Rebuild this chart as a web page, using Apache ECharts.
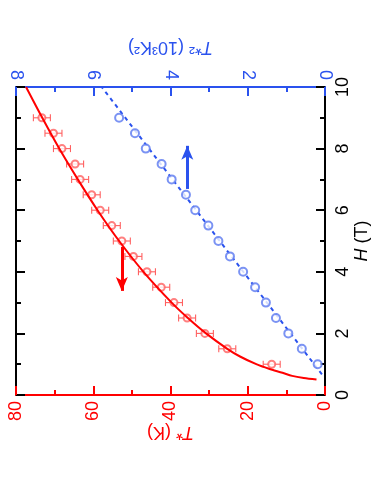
<!DOCTYPE html>
<html>
<head>
<meta charset="utf-8">
<script src="https://cdn.jsdelivr.net/npm/echarts@6/dist/echarts.min.js"></script>
<style>
  html, body { margin: 0; padding: 0; background: #fff; }
  #panel { width: 374px; height: 484px; }
</style>
</head>
<body>
<div id="panel"></div>
<script>
  // measured points (H in tesla)
  const fieldH = [1, 1.5, 2, 2.5, 3, 3.5, 4, 4.5, 5, 5.5, 6, 6.5, 7, 7.5, 8, 8.5, 9];
  const tStar = [13.8, 25.3, 31.1, 35.7, 39.1, 42.4, 46.1, 49.6, 52.6, 55.2, 58.2, 60.4, 63.4, 64.7, 68.1, 70.3, 73.3];
  const tStarErr = [2.2, 2.2, 2.2, 2.2, 2.2, 2.2, 2.2, 2.2, 2.2, 2.2, 2.2, 2.2, 2.2, 2.2, 2.2, 2.2, 2.2];
  const tStar2 = [0.19, 0.60, 0.95, 1.27, 1.53, 1.81, 2.12, 2.46, 2.76, 3.02, 3.36, 3.60, 3.97, 4.23, 4.64, 4.92, 5.33];

  // fitted curves
  const curveH = [0.5, 0.55, 0.62, 0.72, 0.85, 1.0, 1.25, 1.5, 2, 2.5, 3, 4, 5, 6, 7, 8, 9, 10];
  const curveT = [2.2, 5.5, 8.5, 11, 14.5, 17.8, 22, 25.3, 30.8, 35.5, 39.7, 47, 53.3, 58.9, 64, 68.8, 73.2, 77.4];
  const lineH = [0.67, 10];
  const lineT2 = [0.08, 5.78];

  // arrows [x, yFrom, yTo]
  const redArrow = [52.6, 4.81, 3.38];
  const blueArrow = [3.565, 6.69, 8.09];

  const xTicksT = [0, 20, 40, 60, 80];
  const xTicksT2 = [0, 2, 4, 6, 8];
  const yTicksH = [0, 2, 4, 6, 8, 10];

  const RED = "#ff0000";
  const BLUE = "#2a52ee";
  const FONT = "Liberation Sans";

  let panel = echarts.init(document.getElementById("panel"));

  const zip = (a, b) => a.map((v, i) => [v, b[i]]);

  // shared axis look, only colour changes
  function axisStyle(color) {
    return {
      nameMoveOverlap: false,
      axisLine: { onZero: false, lineStyle: { color: color, width: 2 } },
      axisTick: { inside: true, length: 9, lineStyle: { color: color, width: 2 } },
      minorTick: { show: true, splitNumber: 2, length: 5, lineStyle: { color: color, width: 2 } },
      splitLine: { show: false }
    };
  }

  function nameStyle(color) {
    return {
      color: color,
      fontSize: 18,
      fontFamily: FONT,
      rich: { i: { fontStyle: "italic", fontSize: 18, color: color, fontFamily: FONT } }
    };
  }

  let option = {
    animation: false,
    grid: {
      left: 16,
      right: 49,
      top: 87,
      bottom: 89,
      containLabel: false,
      outerBoundsMode: "none"
    },
    xAxis: [Object.assign({
        type: "value",
        position: "bottom",
        inverse: true,
        min: xTicksT[0],
        max: xTicksT[xTicksT.length - 1],
        interval: 20,
        name: "{i|T}* (K)",
        nameLocation: "middle",
        nameRotate: 180,
        nameGap: 28,
        nameTextStyle: nameStyle(RED),
        axisLabel: { rotate: 90, margin: 6, color: RED, fontSize: 18, fontFamily: FONT }
      }, axisStyle(RED)),
      Object.assign({
        type: "value",
        position: "top",
        inverse: true,
        min: xTicksT2[0],
        max: xTicksT2[xTicksT2.length - 1],
        interval: 2,
        name: "{i|T}*² (10³K²)",
        nameLocation: "middle",
        nameRotate: 180,
        nameGap: 31,
        nameTextStyle: nameStyle(BLUE),
        axisLabel: { rotate: 90, margin: 7, color: BLUE, fontSize: 18, fontFamily: FONT }
      }, axisStyle(BLUE))
    ],
    yAxis: [Object.assign({
        type: "value",
        position: "right",
        min: yTicksH[0],
        max: yTicksH[yTicksH.length - 1],
        interval: 2,
        name: "{i|H} (T)",
        nameLocation: "middle",
        nameRotate: 90,
        nameGap: 28,
        nameTextStyle: nameStyle("#000"),
        axisLabel: { rotate: 90, margin: 9, color: "#000", fontSize: 18, fontFamily: FONT }
      }, axisStyle("#000")),
      Object.assign({
        type: "value",
        position: "left",
        min: yTicksH[0],
        max: yTicksH[yTicksH.length - 1],
        interval: 2,
        axisLabel: { show: false }
      }, axisStyle("#000"))
    ],
    series: [{
        // horizontal error bars on T*
        name: "err",
        type: "custom",
        xAxisIndex: 0,
        yAxisIndex: 0,
        data: fieldH.map((h, i) => [tStar[i], h, tStarErr[i]]),
        renderItem: function(params, api) {
          let lo = api.coord([api.value(0) - api.value(2), api.value(1)]);
          let hi = api.coord([api.value(0) + api.value(2), api.value(1)]);
          let style = { stroke: "#ff6060", lineWidth: 1.1 };
          return {
            type: "group",
            children: [
              { type: "line", shape: { x1: lo[0], y1: lo[1], x2: hi[0], y2: hi[1] }, style: style },
              { type: "line", shape: { x1: lo[0], y1: lo[1] - 3.5, x2: lo[0], y2: lo[1] + 3.5 }, style: style },
              { type: "line", shape: { x1: hi[0], y1: hi[1] - 3.5, x2: hi[0], y2: hi[1] + 3.5 }, style: style }
            ]
          };
        },
        z: 2
      },
      {
        name: "T*",
        type: "scatter",
        xAxisIndex: 0,
        yAxisIndex: 0,
        symbol: "emptyCircle",
        symbolSize: 7,
        itemStyle: { color: "#ff6060", borderWidth: 1.1 },
        data: zip(tStar, fieldH),
        markLine: {
          silent: true,
          symbol: ["none", "arrow"],
          symbolSize: [9, 14],
          label: { show: false },
          lineStyle: { color: RED, width: 3, type: "solid" },
          data: [[{ coord: [redArrow[0], redArrow[1]] }, { coord: [redArrow[0], redArrow[2]] }]]
        },
        z: 3
      },
      {
        name: "T* fit",
        type: "line",
        xAxisIndex: 0,
        yAxisIndex: 0,
        smooth: 0.3,
        showSymbol: false,
        lineStyle: { color: RED, width: 2 },
        data: zip(curveT, curveH),
        z: 4
      },
      {
        name: "T*2 fit",
        type: "line",
        xAxisIndex: 1,
        yAxisIndex: 0,
        showSymbol: false,
        lineStyle: { color: BLUE, width: 2, type: [4, 4] },
        data: zip(lineT2, lineH),
        z: 3
      },
      {
        name: "T*2",
        type: "scatter",
        xAxisIndex: 1,
        yAxisIndex: 0,
        symbol: "emptyCircle",
        symbolSize: 8,
        itemStyle: { color: "#5a78f0", borderWidth: 1 },
        data: zip(tStar2, fieldH),
        markLine: {
          silent: true,
          symbol: ["none", "arrow"],
          symbolSize: [9, 14],
          label: { show: false },
          lineStyle: { color: BLUE, width: 3, type: "solid" },
          data: [[{ coord: [blueArrow[0], blueArrow[1]] }, { coord: [blueArrow[0], blueArrow[2]] }]]
        },
        z: 3
      }
    ]
  };
  panel.setOption(option, true);
</script>
</body>
</html>
